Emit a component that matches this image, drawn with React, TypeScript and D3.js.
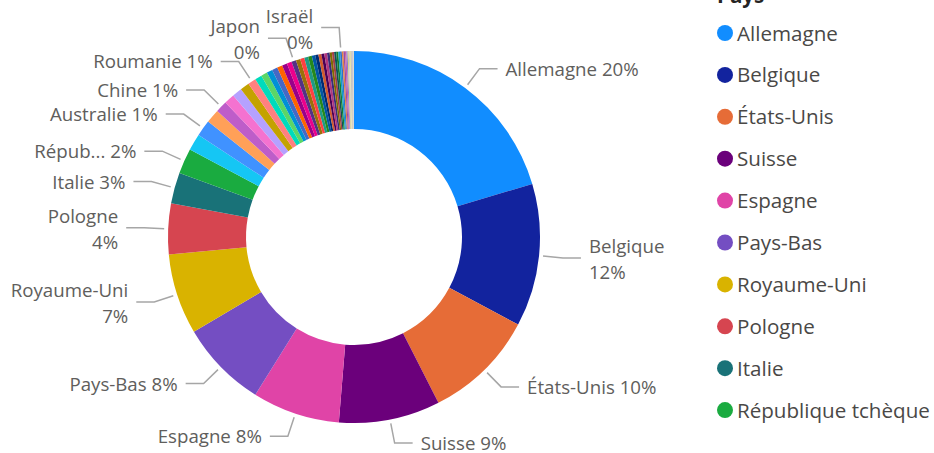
import React from 'react';
import * as d3 from 'd3';

// pays triés par part décroissante (en %)
const countries = [
  'Allemagne', 'Belgique', 'États-Unis', 'Suisse', 'Espagne', 'Pays-Bas', 'Royaume-Uni',
  'Pologne', 'Italie', 'République tchèque',
  'Autriche', 'Australie', 'Canada', 'Chine', 'Suède', 'Danemark', 'Portugal', 'Roumanie',
  'Hongrie', 'Norvège', 'Finlande', 'Irlande', 'Grèce', 'Inde', 'Brésil', 'Japon',
  'Slovaquie', 'Slovénie', 'Croatie', 'Luxembourg', 'Bulgarie', 'Lituanie', 'Lettonie',
  'Estonie', 'Serbie', 'Turquie', 'Mexique', 'Corée du Sud', 'Singapour', 'Afrique du Sud',
  'Ukraine', 'Israël',
  'Argentine', 'Chili', 'Islande', 'Malte', 'Chypre', 'Nouvelle-Zélande', 'Émirats arabes unis',
  'Maroc', 'Tunisie', 'Égypte', 'Thaïlande', 'Vietnam', 'Colombie', 'Pérou',
];

const shares = [
  20.4, 12.4, 9.7, 8.8, 7.6, 7.6, 7.0,
  4.4, 2.7, 2.2,
  1.45, 1.4, 1.2, 1.0, 0.9, 0.85, 0.8, 0.7,
  0.6, 0.55, 0.5, 0.48, 0.46, 0.44, 0.42, 0.4,
  0.38, 0.36, 0.34, 0.32, 0.3, 0.28, 0.26,
  0.25, 0.24, 0.22, 0.2, 0.19, 0.18, 0.17,
  0.16, 0.15,
  0.14, 0.13, 0.12, 0.11, 0.1, 0.09, 0.08,
  0.07, 0.06, 0.05, 0.04, 0.03, 0.02, 0.01,
];

// étiquettes affichées sur le graphique
const labeled = [
  'Allemagne', 'Belgique', 'États-Unis', 'Suisse', 'Espagne', 'Pays-Bas', 'Royaume-Uni',
  'Pologne', 'Italie', 'République tchèque', 'Australie', 'Chine', 'Roumanie', 'Japon', 'Israël',
];
const wrapped = ['Belgique', 'Pologne', 'Royaume-Uni', 'Japon', 'Israël'];
const shortNames: Record<string, string> = { 'République tchèque': 'Répub...' };

const legendItems = countries.slice(0, 10);

const palette = [
  '#118DFF', '#12239E', '#E66C37', '#6B007B', '#E044A7', '#744EC2', '#D9B300', '#D64550',
  '#197278', '#1AAB40', '#15C6F4', '#4092FF', '#FFA058', '#BE5DC9', '#F472D0', '#B5A1FF',
  '#C4A200', '#FF8080', '#00DBBC', '#5BD667', '#0091D5', '#4668C5', '#FF6300', '#99008A',
  '#EC008C', '#533285', '#99700A', '#FF4141', '#1F9A85', '#25891C', '#0057A2', '#002B74',
  '#D35A2C', '#4B0056', '#B2377E', '#3A2C7A', '#7F6B00', '#A43F45', '#0E5258', '#157D2E',
  '#10A0C5', '#2F6FCC', '#E08240', '#9A4DA6', '#C759A8', '#8E7FCC', '#D6CC80', '#C9C9C9',
  '#E6E0A0', '#B0B0B0', '#D8C8A8', '#A8A8C8', '#E0E0E0', '#C0B080', '#D0D0D0', '#E8E4C8',
];

const width = 934;
const height = 453;
const cx = 354;
const cy = 237;
const outerR = 186;
const innerR = 108;
const font = '"Segoe UI", "Open Sans", sans-serif';

type Slice = { name: string; value: number };

export default function App() {
  const data: Slice[] = countries.map((name, i) => ({ name, value: shares[i] }));
  const total = d3.sum(data, d => d.value);

  const color = d3.scaleOrdinal<string, string>().domain(countries).range(palette);
  const pieGen = d3.pie<Slice>().value(d => d.value).sort(null);
  const arcs = pieGen(data);

  const sliceArc = d3.arc<d3.PieArcDatum<Slice>>().innerRadius(innerR).outerRadius(outerR);
  const startArc = d3.arc<d3.PieArcDatum<Slice>>().innerRadius(190).outerRadius(190);
  const elbowArc = d3.arc<d3.PieArcDatum<Slice>>().innerRadius(210).outerRadius(210);

  return (
    <svg width={width} height={height} style={{ position: 'absolute', left: 0, top: 0 }}
      fontFamily={font}>
      <g transform={`translate(${cx},${cy})`}>
        {arcs.map((d, i) => (
          <path key={i} d={sliceArc(d) || ''} fill={color(d.data.name)} />
        ))}
      </g>

      <g transform={`translate(${cx},${cy})`}>
        {arcs.filter(d => labeled.includes(d.data.name)).map((d, i) => {
          const [sx, sy] = startArc.centroid(d);
          const [ex, ey] = elbowArc.centroid(d);
          const right = ex > 0;
          const hx = ex + (right ? 18 : -18);
          const tx = hx + (right ? 8 : -8);
          const pct = Math.round((d.data.value / total) * 100) + '%';
          const name = shortNames[d.data.name] || d.data.name;
          const twoLines = wrapped.includes(d.data.name);
          return (
            <g key={i}>
              <polyline points={`${sx},${sy} ${ex},${ey} ${hx},${ey}`}
                fill="none" stroke="#A6A6A6" strokeWidth={1.5} />
              <text x={tx} y={ey + 2} fill="#605E5C" fontSize={18.7}
                textAnchor={right ? 'start' : 'end'} dominantBaseline="middle">
                {twoLines ? (
                  <>
                    <tspan x={tx} dy={-12}>{name}</tspan>
                    <tspan x={tx} dy={26}>{pct}</tspan>
                  </>
                ) : `${name} ${pct}`}
              </text>
            </g>
          );
        })}
      </g>

      <g>
        <text x={717} y={3} fontSize={20.6} fontWeight="bold" fill="#252423">Pays</text>
        {legendItems.map((name, i) => (
          <g key={name} transform={`translate(0,${33 + i * 41.9})`}>
            <circle cx={725} cy={0} r={8} fill={color(name)} />
            <text x={737} y={2} fontSize={20.6} fill="#4A4846" dominantBaseline="middle">{name}</text>
          </g>
        ))}
      </g>
    </svg>
  );
}
